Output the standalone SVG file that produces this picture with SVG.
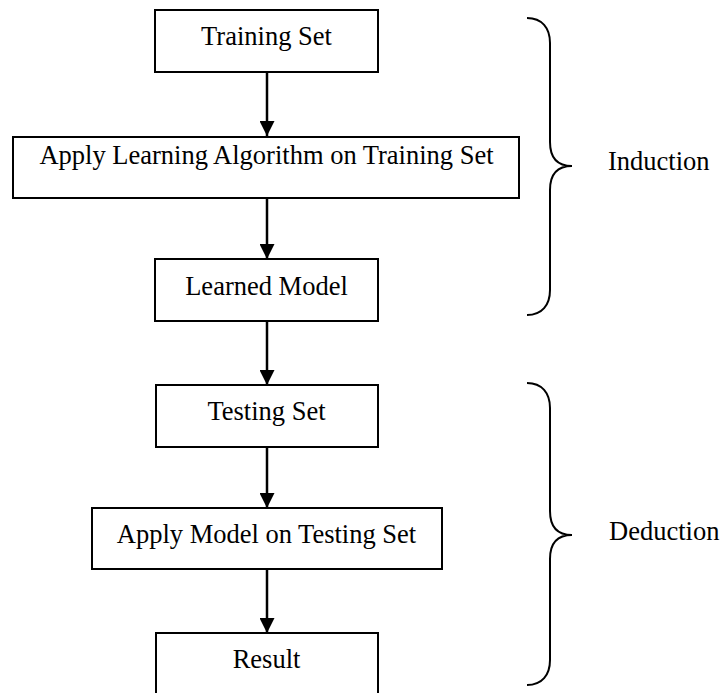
<svg xmlns="http://www.w3.org/2000/svg" width="722" height="693" viewBox="0 0 722 693">
  <style>
    .box { fill: #ffffff; stroke: #000000; stroke-width: 2; }
    .label { font-size: 26.5px; fill: #000000; }
    .mid { text-anchor: middle; }
    .edge { stroke: #000000; stroke-width: 2.5; fill: none; }
    .brace { stroke: #000000; stroke-width: 2; fill: none; }
  </style>
  <defs>
    <marker id="arrow" markerUnits="userSpaceOnUse" markerWidth="16" markerHeight="15" refX="15" refY="7.5" orient="auto">
      <path d="M0,0 L15,7.5 L0,15 Z" fill="#000000"/>
    </marker>
  </defs>
  <rect width="722" height="693" fill="#ffffff"/>

  <!-- flow connectors -->
  <g id="connectors">
    <line class="edge" x1="267" y1="72" x2="267" y2="136" marker-end="url(#arrow)"/>
    <line class="edge" x1="267" y1="198" x2="267" y2="259" marker-end="url(#arrow)"/>
    <line class="edge" x1="267" y1="321" x2="267" y2="385" marker-end="url(#arrow)"/>
    <line class="edge" x1="267" y1="447" x2="267" y2="508" marker-end="url(#arrow)"/>
    <line class="edge" x1="267" y1="569" x2="267" y2="633" marker-end="url(#arrow)"/>
  </g>

  <g font-family="Liberation Serif, serif">
    <g id="training-set">
      <rect class="box" x="155" y="10" width="223" height="62"/>
      <text class="label mid" x="266.5" y="45">Training Set</text>
    </g>

    <g id="apply-learning">
      <rect class="box" x="13" y="137" width="506" height="61"/>
      <text class="label mid" x="266.5" y="164">Apply Learning Algorithm on Training Set</text>
    </g>

    <g id="learned-model">
      <rect class="box" x="155" y="259" width="223" height="62"/>
      <text class="label mid" x="266.5" y="295">Learned Model</text>
    </g>

    <g id="testing-set">
      <rect class="box" x="156" y="385" width="222" height="62"/>
      <text class="label mid" x="266.5" y="420">Testing Set</text>
    </g>

    <g id="apply-model">
      <rect class="box" x="92" y="508" width="350" height="61"/>
      <text class="label mid" x="266.5" y="543">Apply Model on Testing Set</text>
    </g>

    <g id="result">
      <rect class="box" x="156" y="633" width="222" height="62"/>
      <text class="label mid" x="266.5" y="668">Result</text>
    </g>

    <!-- right-hand braces grouping the two phases -->
    <g id="induction">
      <path class="brace" d="M527,18 C542,18 550,28 550,43 L550,142 C550,158 558,166 572,166 C558,166 550,174 550,190 L550,290 C550,305 542,315 527,315"/>
      <text class="label" x="608" y="170">Induction</text>
    </g>

    <g id="deduction">
      <path class="brace" d="M527,383 C542,383 550,393 550,408 L550,511 C550,527 558,535 572,535 C558,535 550,543 550,559 L550,660 C550,675 542,685 527,685"/>
      <text class="label" x="609" y="540">Deduction</text>
    </g>
  </g>
</svg>
